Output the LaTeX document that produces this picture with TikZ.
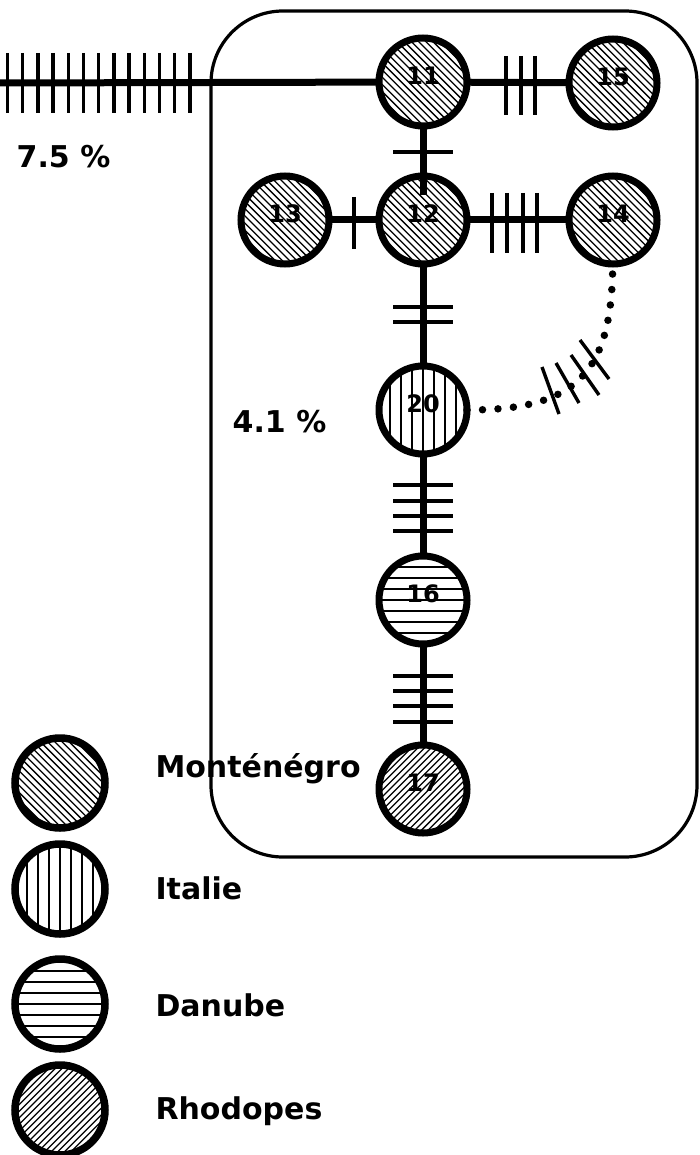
\documentclass[tikz,border=0pt]{standalone}
\usepackage{fontspec}
\setmainfont{DejaVu Sans}
\usetikzlibrary{calc}
\newcommand\lab[1]{\raisebox{-2.5pt}[0pt][0pt]{#1}}
\begin{document}
\begin{tikzpicture}[x=1pt,y=1pt,
  site/.style={circle,draw,line width=7pt,minimum size=88pt,inner sep=0pt,outer sep=0pt,font=\fontsize{24}{24}\selectfont\bfseries},
  legsite/.style={circle,draw,line width=7.5pt,minimum size=90pt,inner sep=0pt,outer sep=0pt},
  hatch/.style={line width=#1},
  mont/.style={fill=white,path picture={\foreach \i in {-14,...,14}
     \draw[hatch=1.3pt] ($(path picture bounding box.center)+(\i*3.6,\i*3.6)+(-60,60)$) -- ++(120,-120);}},
  rhod/.style={fill=white,path picture={\foreach \i in {-15,...,15}
     \draw[hatch=1.25pt] ($(path picture bounding box.center)+(\i*3.3,-\i*3.3)+(-60,-60)$) -- ++(120,120);}},
  ital/.style={fill=white,path picture={\foreach \i in {-5,...,5}
     \draw[hatch=2.4pt] ($(path picture bounding box.center)+(\i*11,-55)$) -- ++(0,110);}},
  danu/.style={fill=white,path picture={\foreach \i in {-5,...,5}
     \draw[hatch=2.4pt] ($(path picture bounding box.center)+(-55,\i*11)$) -- ++(110,0);}},
  link/.style={line width=7pt},
  dotlink/.style={line width=7.5pt,line cap=round,dash pattern=on 0pt off 15.5pt},
  tickmark/.style={line width=3.4pt},
  big/.style={font=\fontsize{30}{30}\selectfont\bfseries},
  box/.style={line width=3.2pt,rounded corners=72pt},
]
\useasboundingbox (0,0) rectangle (699,-1155);

% group box
\draw[box] (211,-11) rectangle (697,-857);

% nodes
\node[site,mont] (n11) at (423,-82) {\lab{11}};
\node[site,mont] (n15) at (613,-83) {\lab{15}};
\node[site,mont] (n13) at (285,-220) {\lab{13}};
\node[site,mont] (n12) at (423,-220) {\lab{12}};
\node[site,mont] (n14) at (613,-220) {\lab{14}};
\node[site,ital] (n20) at (423,-410) {\lab{20}};
\node[site,danu] (n16) at (423,-600) {\lab{16}};
\node[site,rhod] (n17) at (423,-789) {\lab{17}};

\coordinate (w) at (0,-83);
\coordinate (in12) at (423,-195);

% connectors
\draw[link] (w) -- (n11);
\draw[link] (n11) -- (n15);
\draw[link] (n11) -- (in12);
\draw[link] (n13) -- (n12);
\draw[link] (n12) -- (n14);
\draw[link] (n12) -- (n20);
\draw[link] (n20) -- (n16);
\draw[link] (n16) -- (n17);
\draw[dotlink] (n20) .. controls (575,-410) and (612,-375) .. (n14);

% tick marks
\foreach \x in {7.5,22.7,37.9,53.1,68.3,83.5,98.7,113.9,129.1,144.3,159.5,174.7,190}
  \draw[tickmark] (\x,-53) -- (\x,-113);
\foreach \x in {506,521,535}
  \draw[tickmark] (\x,-56) -- (\x,-115);
\draw[tickmark] (354,-197) -- (354,-249);
\foreach \x in {492,507,523,537}
  \draw[tickmark] (\x,-193) -- (\x,-253);
\foreach \y in {152,307,322,485,501,516,531,676,691,706,722}
  \draw[tickmark] (393,-\y) -- (453,-\y);
\draw[tickmark] (542,-367) -- (559,-414);
\draw[tickmark] (556,-363) -- (579,-403);
\draw[tickmark] (571,-355) -- (599,-395);
\draw[tickmark] (580,-340) -- (609,-379);

% percentages
\node[big,anchor=base] (p1) at (63.5,-168) {7.5 \%};
\node[big,anchor=base] (p2) at (279.5,-432) {4.1 \%};

% legend
\node[legsite,mont] (l1) at (60,-783) {};
\node[legsite,ital] (l2) at (60,-889) {};
\node[legsite,danu] (l3) at (60,-1004) {};
\node[legsite,rhod] (l4) at (60,-1110) {};
\node[big,anchor=base west] (t1) at (152,-777) {Monténégro};
\node[big,anchor=base west] (t2) at (152,-899) {Italie};
\node[big,anchor=base west] (t3) at (152,-1016) {Danube};
\node[big,anchor=base west] (t4) at (152,-1119) {Rhodopes};
\end{tikzpicture}
\end{document}
